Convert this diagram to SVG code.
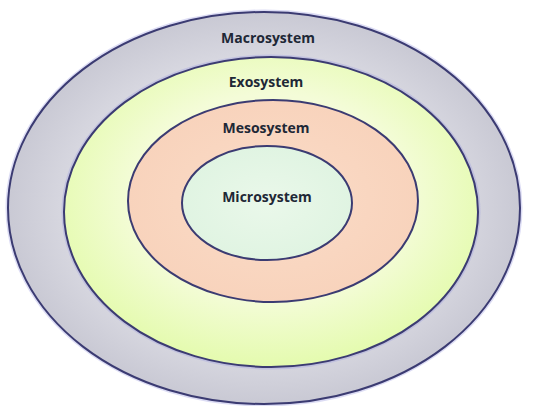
<svg xmlns="http://www.w3.org/2000/svg" width="536" height="406" viewBox="0 0 536 406">
<defs>
<radialGradient id="gMacro" cx="0.5" cy="0.5" r="0.5">
<stop offset="0.7" stop-color="#dcdce4"/>
<stop offset="1" stop-color="#c9c9d4"/>
</radialGradient>
<radialGradient id="gExo" cx="0.5" cy="0.45" r="0.55">
<stop offset="0.6" stop-color="#f4fcd8"/>
<stop offset="1" stop-color="#e4fbae"/>
</radialGradient>
<radialGradient id="gMeso" cx="0.5" cy="0.5" r="0.5">
<stop offset="0" stop-color="#fbdcc8"/>
<stop offset="1" stop-color="#f8d3bc"/>
</radialGradient>
<radialGradient id="gMicro" cx="0.5" cy="0.5" r="0.5">
<stop offset="0" stop-color="#eaf8ea"/>
<stop offset="1" stop-color="#e0f4e2"/>
</radialGradient>
</defs>
<style>
.ring{stroke:#3b3b72;stroke-width:2}
.halo{fill:none;stroke:#9a9ae0;stroke-width:5;stroke-opacity:0.35}
.lbl{font-family:"Open Sans","Liberation Sans",sans-serif;font-weight:bold;font-size:14px;fill:#1e2836;text-anchor:middle}
</style>
<rect width="536" height="406" fill="#ffffff"/>
<g id="macrosystem">
<ellipse class="halo" cx="264" cy="208" rx="256" ry="196"/>
<ellipse class="ring" cx="264" cy="208" rx="256" ry="196" fill="url(#gMacro)"/>
<text class="lbl" x="268" y="43">Macrosystem</text>
</g>
<g id="exosystem">
<ellipse class="halo" cx="271" cy="212" rx="207" ry="155"/>
<ellipse class="ring" cx="271" cy="212" rx="207" ry="155" fill="url(#gExo)"/>
<text class="lbl" x="266" y="87">Exosystem</text>
</g>
<g id="mesosystem">
<ellipse class="ring" cx="273" cy="201" rx="145" ry="101" fill="url(#gMeso)"/>
<text class="lbl" x="266" y="133">Mesosystem</text>
</g>
<g id="microsystem">
<ellipse class="ring" cx="267" cy="203" rx="85" ry="57" fill="url(#gMicro)"/>
<text class="lbl" x="267" y="202">Microsystem</text>
</g>
<g id="connectors"/>
</svg>
